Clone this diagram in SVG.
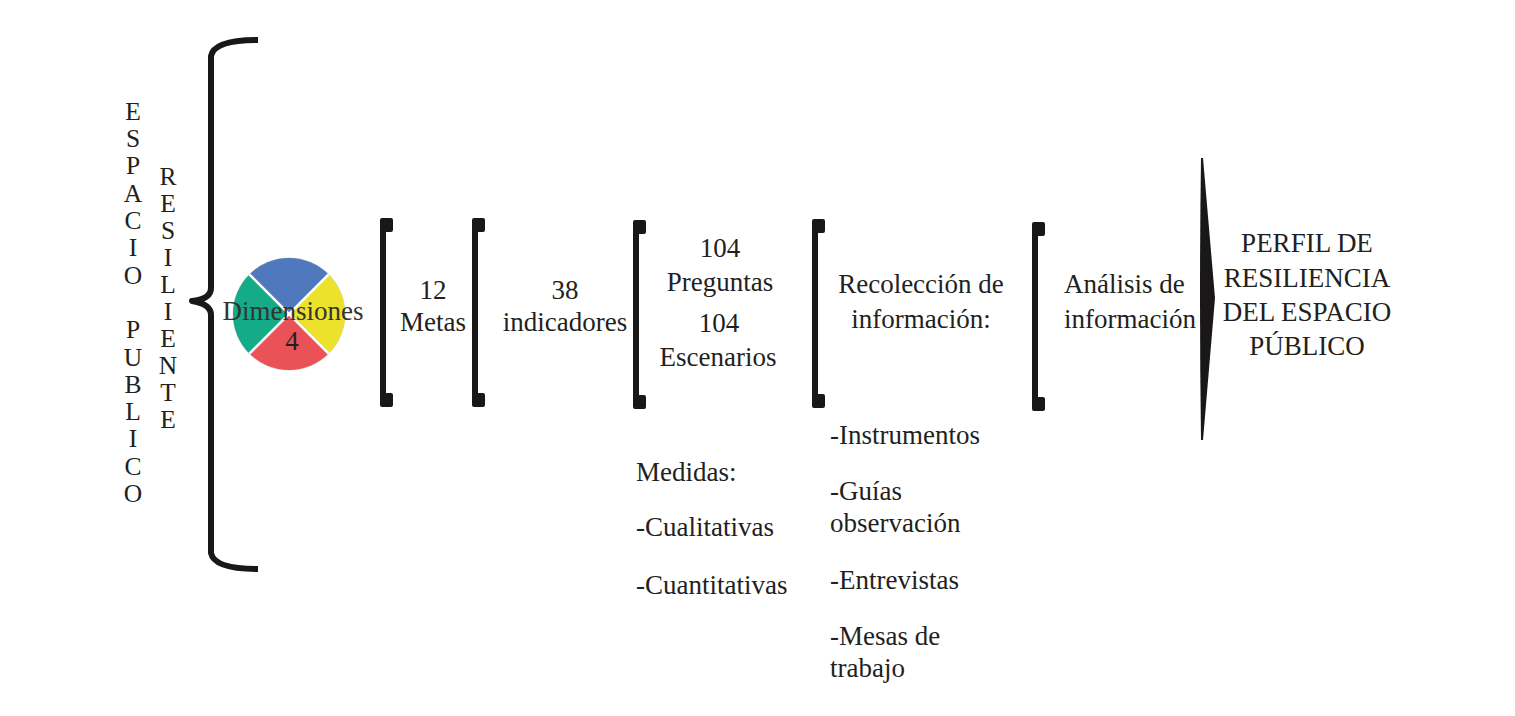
<svg xmlns="http://www.w3.org/2000/svg" xmlns:xlink="http://www.w3.org/1999/xlink" width="1515" height="716" viewBox="0 0 1515 716">
  <style>
    text { font-family: "Liberation Serif", "DejaVu Serif", serif; fill: #231f20; }
    .t { font-size: 27px; }
    .c { text-anchor: middle; }
    .v { font-size: 25.5px; text-anchor: middle; }
    .brk { fill: #1a1718; }
    .brace { fill: none; stroke: #1a1718; stroke-width: 6; stroke-linecap: butt; stroke-linejoin: round; }
    .sep { stroke: #ffffff; stroke-width: 2.5; }
  </style>
  <defs>
    <path id="bracket" d="M0,2 Q0,0 2,0 L11,0 Q13,0 13,2 L13,12 Q13,14 11,14 L6,14 L6,175 L11,175 Q13,175 13,177 L13,187 Q13,189 11,189 L2,189 Q0,189 0,187 Z"/>
  </defs>
  <rect width="1515" height="716" fill="#ffffff"/>

  <g id="title-espacio-publico">
    <text class="v" x="133" y="120">E</text>
    <text class="v" x="133" y="147">S</text>
    <text class="v" x="133" y="174">P</text>
    <text class="v" x="133" y="202">A</text>
    <text class="v" x="133" y="229">C</text>
    <text class="v" x="133" y="256">I</text>
    <text class="v" x="133" y="284">O</text>
    <text class="v" x="133" y="338">P</text>
    <text class="v" x="133" y="366">U</text>
    <text class="v" x="133" y="393">B</text>
    <text class="v" x="133" y="420">L</text>
    <text class="v" x="133" y="447">I</text>
    <text class="v" x="133" y="475">C</text>
    <text class="v" x="133" y="502">O</text>
  </g>
  <g id="title-resiliente">
    <text class="v" x="168" y="185">R</text>
    <text class="v" x="168" y="212">E</text>
    <text class="v" x="168" y="239">S</text>
    <text class="v" x="168" y="266">I</text>
    <text class="v" x="168" y="293">L</text>
    <text class="v" x="168" y="320">I</text>
    <text class="v" x="168" y="347">E</text>
    <text class="v" x="168" y="374">N</text>
    <text class="v" x="168" y="401">T</text>
    <text class="v" x="168" y="428">E</text>
  </g>

  <g id="connectors">
    <path class="brace" d="M258,40 Q214,40 211,56 L211,288 Q211,299 192,301 Q211,304 211,315 L211,553 Q214,569 258,569"/>
    <use xlink:href="#bracket" href="#bracket" class="brk" x="380" y="218"/>
    <use xlink:href="#bracket" href="#bracket" class="brk" x="472" y="218"/>
    <use xlink:href="#bracket" href="#bracket" class="brk" x="633" y="220"/>
    <use xlink:href="#bracket" href="#bracket" class="brk" x="812" y="219"/>
    <use xlink:href="#bracket" href="#bracket" class="brk" x="1032" y="222"/>
    <path class="brk" d="M1201,158 L1203,158 L1215,298 L1203,440 L1201,440 Q1199,298 1201,158 Z"/>
  </g>

  <g id="node-dimensiones">
    <circle cx="289" cy="314" r="56.5" fill="#d9d9d9"/>
    <path d="M289,314 L249.4,274.4 A56,56 0 0 1 328.6,274.4 Z" fill="#4f78bd"/>
    <path d="M289,314 L328.6,274.4 A56,56 0 0 1 328.6,353.6 Z" fill="#ece12b"/>
    <path d="M289,314 L328.6,353.6 A56,56 0 0 1 249.4,353.6 Z" fill="#e95357"/>
    <path d="M289,314 L249.4,353.6 A56,56 0 0 1 249.4,274.4 Z" fill="#14ab89"/>
    <line class="sep" x1="249.4" y1="274.4" x2="328.6" y2="353.6"/>
    <line class="sep" x1="328.6" y1="274.4" x2="249.4" y2="353.6"/>
    <text class="t c" x="293" y="320" style="fill:#333333">Dimensiones</text>
    <text class="t c" x="292" y="350">4</text>
  </g>

  <g id="node-metas">
    <text class="t c" x="433" y="299">12</text>
    <text class="t c" x="433" y="331">Metas</text>
  </g>

  <g id="node-indicadores">
    <text class="t c" x="565" y="299">38</text>
    <text class="t c" x="565" y="331">indicadores</text>
  </g>

  <g id="node-preguntas">
    <text class="t c" x="720" y="257">104</text>
    <text class="t c" x="720" y="291">Preguntas</text>
    <text class="t c" x="719" y="332">104</text>
    <text class="t c" x="718" y="366">Escenarios</text>
  </g>

  <g id="node-medidas">
    <text class="t" x="636" y="481">Medidas:</text>
    <text class="t" x="636" y="536">-Cualitativas</text>
    <text class="t" x="636" y="594">-Cuantitativas</text>
  </g>

  <g id="node-recoleccion">
    <text class="t c" x="921" y="293">Recolección de</text>
    <text class="t c" x="921" y="328">información:</text>
  </g>

  <g id="node-instrumentos">
    <text class="t" x="830" y="444">-Instrumentos</text>
    <text class="t" x="830" y="500">-Guías</text>
    <text class="t" x="830" y="532">observación</text>
    <text class="t" x="830" y="589">-Entrevistas</text>
    <text class="t" x="830" y="645">-Mesas de</text>
    <text class="t" x="830" y="677">trabajo</text>
  </g>

  <g id="node-analisis">
    <text class="t" x="1064" y="293">Análisis de</text>
    <text class="t" x="1064" y="328">información</text>
  </g>

  <g id="node-perfil">
    <text class="t c" x="1307" y="252">PERFIL DE</text>
    <text class="t c" x="1307" y="287">RESILIENCIA</text>
    <text class="t c" x="1307" y="321">DEL ESPACIO</text>
    <text class="t c" x="1307" y="355">PÚBLICO</text>
  </g>
</svg>
